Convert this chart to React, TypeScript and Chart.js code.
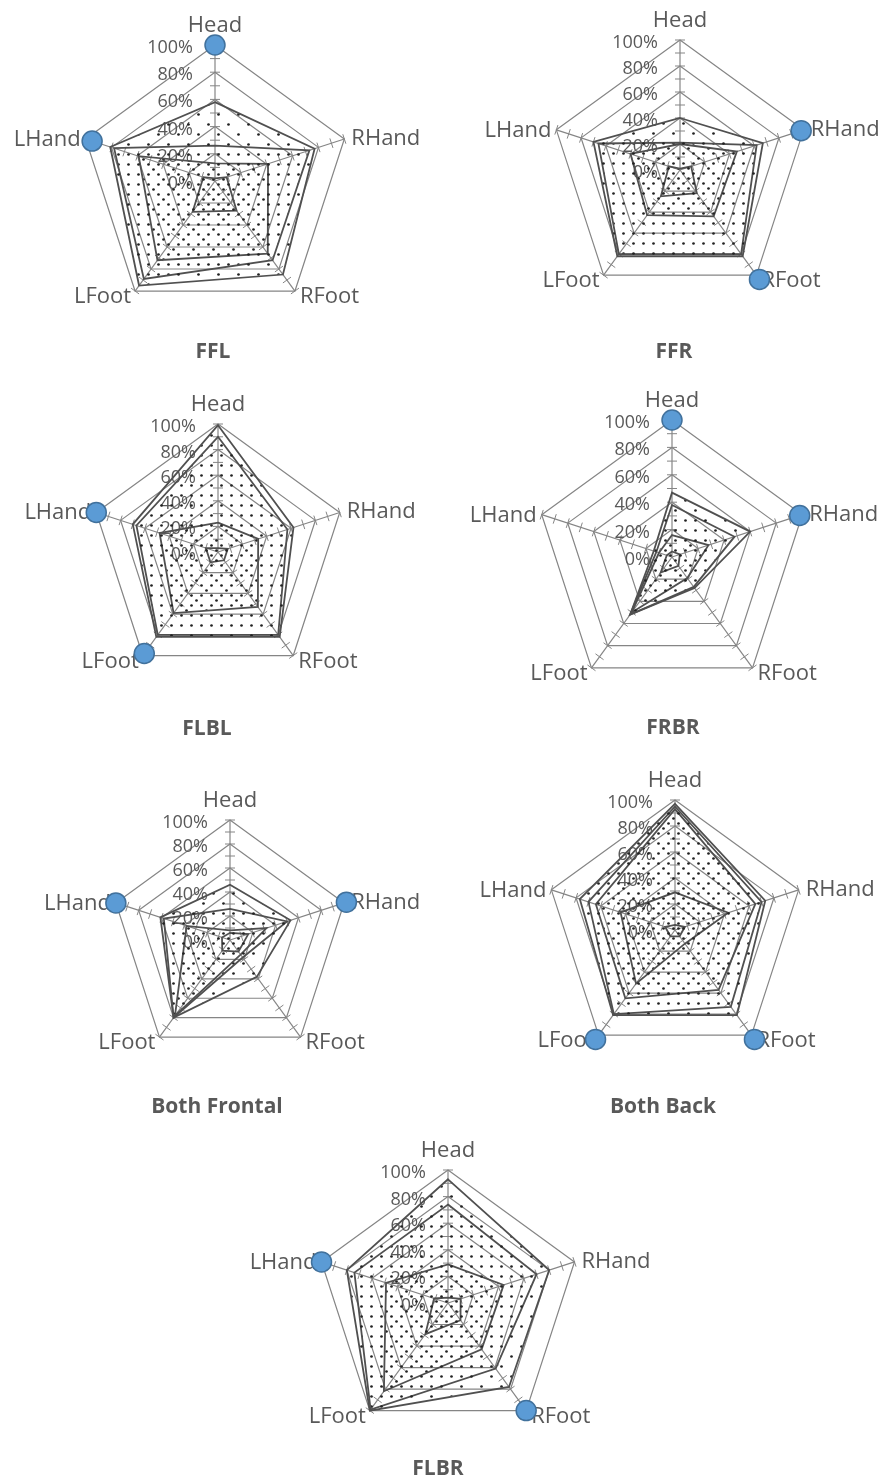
import React, { useEffect, useRef } from 'react';
import { Chart, registerables } from 'chart.js';

Chart.register(...registerables);

// ---------- data ----------
const CATEGORIES = ['Head', 'RHand', 'RFoot', 'LFoot', 'LHand'];
const TICK_VALUES = [0, 20, 40, 60, 80, 100];
const TICK_LABELS = ['0%', '20%', '40%', '60%', '80%', '100%'];
const MINOR_TICK_VALUES = [10, 20, 30, 40, 50, 60, 70, 80, 90, 100];

const FFL_SERIES = [
  [58, 77, 85, 95, 81],
  [26, 73, 72, 89, 78],
  [13, 41, 66, 72, 59],
  [2, 9, 27, 28, 9],
];
const FFL_MARKERS = [100, null, null, null, 95];

const FFR_SERIES = [
  [40, 67, 82, 82, 70],
  [21, 62, 80, 80, 66],
  [20, 46, 44, 43, 40],
  [1, 9, 22, 25, 9],
];
const FFR_MARKERS = [null, 98, 104, null, null];

const FLBL_SERIES = [
  [99, 62, 82, 82, 70],
  [90, 57, 80, 80, 67],
  [23, 33, 53, 59, 48],
  [3, 8, 8, 10, 10],
];
const FLBL_MARKERS = [null, null, null, 98, 100];

const FRBR_SERIES = [
  [47, 60, 28, 52, 14],
  [38, 48, 27, 52, 12],
  [16, 28, 19, 50, 10],
  [4, 6, 8, 14, 4],
];
const FRBR_MARKERS = [100, 98, null, null, null];

const BOTH_FRONTAL_SERIES = [
  [46, 53, 38, 80, 61],
  [26, 50, 18, 80, 58],
  [8, 32, 15, 78, 38],
  [6, 16, 12, 11, 7],
];
const BOTH_FRONTAL_MARKERS = [null, 102, null, null, 100];

const BOTH_BACK_SERIES = [
  [97, 73, 81, 81, 77],
  [95, 70, 73, 80, 70],
  [93, 65, 57, 65, 64],
  [29, 43, 13, 51, 44],
  [4, 8, 6, 6, 8],
];
const BOTH_BACK_MARKERS = [null, null, 104, 104, null];

const FLBR_SERIES = [
  [93, 80, 78, 100, 80],
  [74, 70, 61, 99, 74],
  [29, 44, 43, 82, 49],
  [4, 10, 16, 29, 11],
];
const FLBR_MARKERS = [null, null, 100, null, 100];

// ---------- layout / style ----------
const PANELS = [
  { title: 'FFL', series: FFL_SERIES, markers: FFL_MARKERS, cx: 215, cy: 181, r: 136, tx: 213, ty: 358 },
  { title: 'FFR', series: FFR_SERIES, markers: FFR_MARKERS, cx: 680, cy: 170, r: 130, tx: 674, ty: 358 },
  { title: 'FLBL', series: FLBL_SERIES, markers: FLBL_MARKERS, cx: 218, cy: 552, r: 128, tx: 207, ty: 735 },
  { title: 'FRBR', series: FRBR_SERIES, markers: FRBR_MARKERS, cx: 672, cy: 557, r: 137, tx: 673, ty: 734 },
  { title: 'Both Frontal', series: BOTH_FRONTAL_SERIES, markers: BOTH_FRONTAL_MARKERS, cx: 230, cy: 940, r: 120, tx: 217, ty: 1113 },
  { title: 'Both Back', series: BOTH_BACK_SERIES, markers: BOTH_BACK_MARKERS, cx: 675, cy: 930, r: 130, tx: 663, ty: 1113 },
  { title: 'FLBR', series: FLBR_SERIES, markers: FLBR_MARKERS, cx: 448, cy: 1303, r: 133, tx: 438, ty: 1475 },
];

const CANVAS_W = 440;
const CANVAS_H = 400;
const OFF_X = 220;
const OFF_Y = 190;

const TEXT_COLOR = '#595959';
const GRID_COLOR = '#858585';
const LINE_COLOR = '#505050';
const FONT = '"Open Sans", Lato, sans-serif';

const PATTERN_OFFSETS = [
  [0, 0],
  [10, 0],
  [5, 5],
  [15, 5],
  [0, 5],
];

function makePattern(i: number): CanvasPattern | string {
  const tile = document.createElement('canvas');
  tile.width = 20;
  tile.height = 20;
  const g = tile.getContext('2d');
  if (!g) return 'rgba(0,0,0,0.1)';
  const off = PATTERN_OFFSETS[i % PATTERN_OFFSETS.length];
  g.fillStyle = '#222222';
  [
    [2, 2],
    [12, 12],
  ].forEach(([x, y]) => {
    const px = (x + off[0]) % 20;
    const py = (y + off[1]) % 20;
    g.beginPath();
    g.arc(px + 1.5, py + 1.5, 1.35, 0, Math.PI * 2);
    g.fill();
  });
  const ctx = document.createElement('canvas').getContext('2d');
  const p = ctx ? ctx.createPattern(tile, 'repeat') : null;
  return p || 'rgba(0,0,0,0.1)';
}

// label placement relative to each outer vertex: [align, dx, dy(baseline)]
const LABEL_PLACEMENT: Array<[CanvasTextAlign, number, number]> = [
  ['center', 0, -13],
  ['left', 7, 6],
  ['left', 5, 12],
  ['right', -4, 12],
  ['right', -5, 7],
];

function makeDecorPlugin(title: string, titleX: number, titleY: number) {
  return {
    id: 'excelRadarDecor',
    beforeDatasetsDraw(chart: any) {
      const s = chart.scales.r;
      const ctx = chart.ctx as CanvasRenderingContext2D;
      const n = chart.data.labels.length;
      ctx.save();
      // cross tick marks on every spoke
      ctx.strokeStyle = GRID_COLOR;
      ctx.lineWidth = 1;
      for (let i = 0; i < n; i++) {
        const a = s.getIndexAngle(i) - Math.PI / 2;
        const ux = Math.cos(a);
        const uy = Math.sin(a);
        const px = -uy;
        const py = ux;
        MINOR_TICK_VALUES.forEach((v) => {
          const d = s.getDistanceFromCenterForValue(v);
          const x = s.xCenter + ux * d;
          const y = s.yCenter + uy * d;
          ctx.beginPath();
          ctx.moveTo(x + px * 5, y + py * 5);
          ctx.lineTo(x - px * 5, y - py * 5);
          ctx.stroke();
        });
      }
      // value axis labels
      ctx.fillStyle = TEXT_COLOR;
      ctx.font = `18px ${FONT}`;
      ctx.textAlign = 'right';
      ctx.textBaseline = 'alphabetic';
      TICK_VALUES.forEach((v, k) => {
        const d = s.getDistanceFromCenterForValue(v);
        ctx.fillText(TICK_LABELS[k], s.xCenter - 22, s.yCenter - d + 8);
      });
      // category labels
      ctx.font = `22px ${FONT}`;
      for (let i = 0; i < n; i++) {
        const pos = s.getPointPosition(i, s.getDistanceFromCenterForValue(100));
        const [align, dx, dy] = LABEL_PLACEMENT[i];
        ctx.textAlign = align;
        ctx.fillText(String(chart.data.labels[i]), pos.x + dx, pos.y + dy);
      }
      // chart title
      ctx.font = `bold 21px ${FONT}`;
      ctx.textAlign = 'center';
      ctx.fillText(title, titleX, titleY);
      ctx.restore();
    },
  };
}

type Panel = (typeof PANELS)[number];

function RadarPanel({ panel }: { panel: Panel }) {
  const ref = useRef<HTMLCanvasElement>(null);
  const left = panel.cx - OFF_X;
  const top = panel.cy - OFF_Y;

  useEffect(() => {
    const canvas = ref.current;
    if (!canvas) return;
    const datasets: any[] = [
      {
        label: 'marker',
        data: panel.markers,
        showLine: false,
        fill: false,
        borderWidth: 0,
        pointRadius: 10,
        pointHoverRadius: 10,
        pointBackgroundColor: '#5B9BD5',
        pointBorderColor: '#41719C',
        pointBorderWidth: 1.5,
        clip: false,
      },
    ];
    panel.series.forEach((vals, i) => {
      datasets.push({
        label: `S${i + 1}`,
        data: vals,
        borderColor: LINE_COLOR,
        borderWidth: 1.8,
        backgroundColor: makePattern(i),
        fill: 'origin',
        pointRadius: 0,
        pointHoverRadius: 0,
        tension: 0,
        clip: false,
      });
    });
    const lx = panel.cx - left;
    const ly = panel.cy - top;
    const chart = new Chart(canvas, {
      type: 'radar',
      data: { labels: CATEGORIES, datasets },
      options: {
        responsive: false,
        animation: false,
        events: [],
        layout: {
          padding: {
            left: lx - panel.r,
            right: CANVAS_W - lx - panel.r,
            top: ly - panel.r,
            bottom: CANVAS_H - ly - panel.r,
          },
        },
        plugins: {
          legend: { display: false },
          title: { display: false },
          tooltip: { enabled: false },
        },
        scales: {
          r: {
            min: 0,
            max: 100,
            ticks: { display: false, stepSize: 20 },
            pointLabels: { display: false },
            grid: { color: GRID_COLOR, lineWidth: 1.2, circular: false },
            angleLines: { display: true, color: GRID_COLOR, lineWidth: 1.2 },
          },
        },
      },
      plugins: [makeDecorPlugin(panel.title, panel.tx - left, panel.ty - top)],
    } as any);
    return () => chart.destroy();
  }, []);

  return (
    <canvas
      ref={ref}
      width={CANVAS_W}
      height={CANVAS_H}
      style={{ position: 'absolute', left, top, width: CANVAS_W, height: CANVAS_H }}
    />
  );
}

export default function App() {
  return (
    <div
      style={{
        position: 'absolute',
        left: 0,
        top: 0,
        width: 884,
        height: 1482,
        overflow: 'hidden',
        background: '#ffffff',
      }}
    >
      {PANELS.map((p) => (
        <RadarPanel key={p.title} panel={p} />
      ))}
    </div>
  );
}
